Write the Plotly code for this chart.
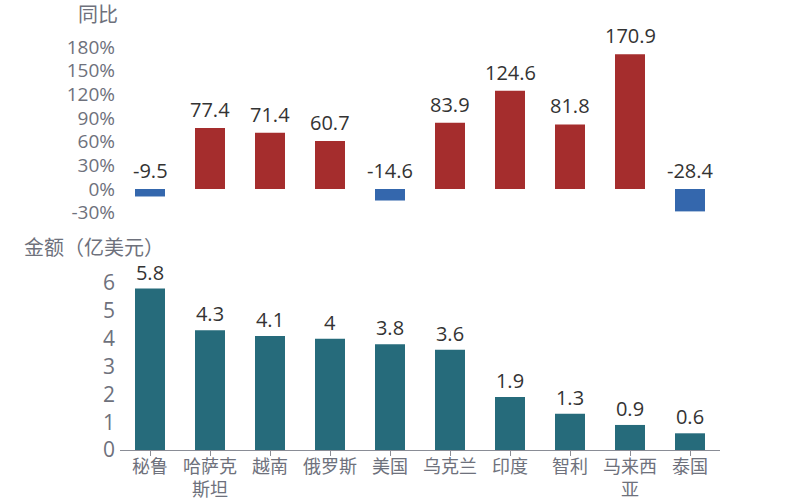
import plotly.graph_objects as go

categories = ["秘鲁", "哈萨克<br>斯坦", "越南", "俄罗斯", "美国", "乌克兰", "印度", "智利", "马来西<br>亚", "泰国"]
yoy = [-9.5, 77.4, 71.4, 60.7, -14.6, 83.9, 124.6, 81.8, 170.9, -28.4]
amount = [5.8, 4.3, 4.1, 4.0, 3.8, 3.6, 1.9, 1.3, 0.9, 0.6]
yoy_ticks = [-30, 0, 30, 60, 90, 120, 150, 180]

RED = "#a52d2d"
BLUE = "#3467ad"
TEAL = "#266b7b"
GRAY = "#6e717c"
DARK = "#333333"
FONT = "Open Sans, Noto Sans CJK SC, sans-serif"

W, H = 800, 500
L, R, T, B = 120, 80, 0, 50
PH = H - T - B

def py(p):
    return (H - B - p) / PH

def px(p):
    return (p - L) / (W - L - R)

fig = go.Figure()

fig.add_trace(go.Bar(
    x=categories, y=yoy, xaxis="x", yaxis="y",
    marker=dict(color=[RED if v >= 0 else BLUE for v in yoy], line=dict(width=0)),
    width=0.5, showlegend=False, hoverinfo="skip",
))
fig.add_trace(go.Bar(
    x=categories, y=amount, xaxis="x2", yaxis="y2",
    marker=dict(color=TEAL, line=dict(width=0)),
    width=0.5, text=[f"{v:g}" for v in amount], textposition="outside",
    textfont=dict(size=20, color=DARK, family=FONT), cliponaxis=False,
    showlegend=False, hoverinfo="skip",
))

annotations = []
for c, v in zip(categories, yoy):
    annotations.append(dict(
        x=c, y=max(v, 0), xref="x", yref="y", text=f"{v:g}",
        showarrow=False, yanchor="bottom", yshift=3,
        font=dict(size=20, color=DARK, family=FONT),
    ))
annotations.append(dict(x=px(98), y=py(15), xref="paper", yref="paper", text="同比",
                        showarrow=False, xanchor="center", yanchor="middle",
                        font=dict(size=20, color=GRAY, family=FONT)))
annotations.append(dict(x=px(22), y=py(247), xref="paper", yref="paper", text="金额（亿美元）",
                        showarrow=False, xanchor="left", yanchor="middle",
                        font=dict(size=20, color=GRAY, family=FONT)))

px_per = (189 - 47) / 180.0
top_lo = -(220 - 189) / px_per
top_hi = (189 - 30) / px_per
bot_hi = (450 - 265) / ((450 - 283) / 6.0)

fig.update_layout(
    width=W, height=H,
    margin=dict(l=L, r=R, t=T, b=B, autoexpand=False),
    paper_bgcolor="white", plot_bgcolor="white",
    font=dict(family=FONT, color=GRAY),
    bargap=0.5,
    annotations=annotations,
    xaxis=dict(domain=[0, 1], anchor="y", showticklabels=False, showline=False,
               ticks="", showgrid=False, zeroline=False, automargin=False),
    yaxis=dict(domain=[py(220), py(30)], range=[top_lo, top_hi], tickvals=yoy_ticks,
               ticktext=[f"{t}%" for t in yoy_ticks], showgrid=False, zeroline=False,
               showline=False, ticks="", automargin=False, ticklabelstandoff=4,
               tickfont=dict(size=19, color=GRAY, family=FONT)),
    xaxis2=dict(domain=[0, 1], anchor="y2", showline=True, linecolor="#8a8d96", linewidth=1,
                ticks="outside", ticklen=5, tickcolor="#8a8d96", showgrid=False,
                automargin=False, ticklabelstandoff=-5,
                tickfont=dict(size=18, color=GRAY, family=FONT)),
    yaxis2=dict(domain=[0, py(265)], range=[0, bot_hi], dtick=1, showgrid=False,
                zeroline=False, showline=False, ticks="", automargin=False,
                ticklabelstandoff=4,
                tickfont=dict(size=21, color=GRAY, family=FONT)),
)

fig.write_html("out.html")
